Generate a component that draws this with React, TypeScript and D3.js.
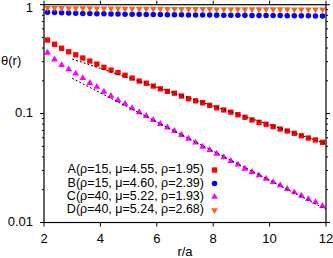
import React from "react";
import { scaleLinear, scaleLog, line, symbol, symbolSquare, symbolCircle, symbolTriangle } from "d3";

// bin centres r/a
const rValues = [
  2.125, 2.375, 2.625, 2.875, 3.125, 3.375, 3.625, 3.875, 4.125, 4.375,
  4.625, 4.875, 5.125, 5.375, 5.625, 5.875, 6.125, 6.375, 6.625, 6.875,
  7.125, 7.375, 7.625, 7.875, 8.125, 8.375, 8.625, 8.875, 9.125, 9.375,
  9.625, 9.875, 10.125, 10.375, 10.625, 10.875, 11.125, 11.375, 11.625, 11.875,
];

const seriesA = [
  0.474, 0.433, 0.398, 0.37, 0.347, 0.324, 0.304, 0.285, 0.266, 0.251,
  0.238, 0.225, 0.212, 0.199, 0.19, 0.179, 0.169, 0.16, 0.154, 0.145,
  0.137, 0.131, 0.126, 0.119, 0.113, 0.108, 0.103, 0.0977, 0.0925, 0.0874,
  0.0832, 0.0798, 0.0759, 0.0722, 0.0692, 0.0659, 0.0626, 0.0597, 0.0573, 0.0545,
];
const seriesB = [
  0.851, 0.846, 0.842, 0.838, 0.835, 0.832, 0.83, 0.827, 0.825, 0.823,
  0.821, 0.819, 0.817, 0.816, 0.814, 0.813, 0.811, 0.81, 0.809, 0.808,
  0.806, 0.805, 0.804, 0.803, 0.802, 0.801, 0.8, 0.799, 0.798, 0.797,
  0.796, 0.795, 0.794, 0.794, 0.793, 0.792, 0.791, 0.79, 0.789, 0.788,
];
const seriesC = [
  0.362, 0.314, 0.279, 0.255, 0.233, 0.212, 0.191, 0.176, 0.159, 0.145,
  0.133, 0.123, 0.112, 0.103, 0.0951, 0.0874, 0.0802, 0.0745, 0.0692, 0.0636,
  0.0588, 0.0541, 0.0497, 0.0463, 0.0428, 0.0397, 0.0367, 0.034, 0.0312, 0.0291,
  0.0271, 0.0252, 0.0235, 0.022, 0.0203, 0.0189, 0.0176, 0.0164, 0.0154, 0.0142,
];
const seriesD = [
  0.935, 0.933, 0.931, 0.93, 0.929, 0.927, 0.926, 0.925, 0.924, 0.923,
  0.922, 0.921, 0.92, 0.919, 0.918, 0.917, 0.917, 0.916, 0.915, 0.914,
  0.914, 0.913, 0.912, 0.912, 0.911, 0.911, 0.91, 0.91, 0.909, 0.909,
  0.908, 0.908, 0.907, 0.907, 0.907, 0.906, 0.906, 0.906, 0.905, 0.905,
];

// dashed fit lines (end points)
const fitR = [3, 12];
const fitA = [0.317, 0.0531];
const fitC = [0.211, 0.0132];

const legendLabels = [
  "A(ρ=15, μ=4.55, ρ=1.95)",
  "B(ρ=15, μ=4.60, ρ=2.39)",
  "C(ρ=40, μ=5.22, ρ=1.93)",
  "D(ρ=40, μ=5.24, ρ=2.68)",
];

const xTicks = [2, 4, 6, 8, 10, 12];
const yTicks = [1, 0.1, 0.01];
const yTickLabels = ["1", "0.1", "0.01"];
const yMinor = [0.02, 0.03, 0.04, 0.05, 0.06, 0.07, 0.08, 0.09, 0.2, 0.3, 0.4, 0.5, 0.6, 0.7, 0.8, 0.9];

const W = 333, H = 258;
const left = 44, right = 326, top = 4.7, bottom = 222.5;
const font = "'Liberation Sans', Arial, sans-serif";

const series = [
  { values: seriesA, color: "#ff0000", shape: "square" },
  { values: seriesB, color: "#0000ff", shape: "circle" },
  { values: seriesC, color: "#ff00ff", shape: "tri" },
  { values: seriesD, color: "#ff6020", shape: "itri" },
];

function markerPath(shape: string) {
  if (shape === "square") return symbol(symbolSquare, 28)()!;
  if (shape === "circle") return symbol(symbolCircle, 24)()!;
  return symbol(symbolTriangle, 20)()!;
}

export default function App() {
  const x = scaleLinear().domain([2, 12]).range([left, right]);
  const y = scaleLog().domain([0.01, 1]).range([bottom, top]);

  const fitLine = line<number>().x((_, i) => x(fitR[i])).y((d) => y(d));

  const marker = (shape: string, cx: number, cy: number, color: string, key: any) => (
    <path
      key={key}
      d={markerPath(shape)}
      transform={`translate(${cx},${cy})${shape === "itri" ? " rotate(180)" : ""}`}
      fill={color}
    />
  );

  return (
    <svg width={W} height={H} style={{ position: "absolute", left: 0, top: 0, background: "#fff" }}
      fontFamily={font}>
      {/* data */}
      {series.map((s, si) => (
        <g key={si}>
          {s.values.map((v, i) => marker(s.shape, x(rValues[i]), y(v), s.color, i))}
        </g>
      ))}
      <path d={fitLine(fitA)!} fill="none" stroke="#000" strokeWidth={1} strokeDasharray="2,2" />
      <path d={fitLine(fitC)!} fill="none" stroke="#000" strokeWidth={1} strokeDasharray="2,2" />

      {/* frame */}
      <rect x={left} y={top} width={right - left} height={bottom - top} fill="none" stroke="#000" strokeWidth={1.2} />

      {/* x ticks */}
      {xTicks.map((t) => (
        <g key={t}>
          <line x1={x(t)} x2={x(t)} y1={bottom} y2={bottom + 4} stroke="#000" />
          <line x1={x(t)} x2={x(t)} y1={top} y2={top - 4} stroke="#000" />
          <text x={x(t)} y={240} textAnchor="middle" dominantBaseline="middle" fontSize={13}>{t}</text>
        </g>
      ))}
      {/* y ticks */}
      {yTicks.map((t, i) => (
        <g key={t}>
          <line x1={left} x2={left - 4} y1={y(t)} y2={y(t)} stroke="#000" />
          <line x1={right} x2={right + 4} y1={y(t)} y2={y(t)} stroke="#000" />
          <text x={33} y={Math.max(y(t), 8.5)} textAnchor="end" dominantBaseline="middle" fontSize={13}>{yTickLabels[i]}</text>
        </g>
      ))}
      {yMinor.map((t) => (
        <g key={t}>
          <line x1={left} x2={left - 2} y1={y(t)} y2={y(t)} stroke="#000" />
          <line x1={right} x2={right + 2} y1={y(t)} y2={y(t)} stroke="#000" />
        </g>
      ))}

      {/* axis titles */}
      <text x={1} y={62} dominantBaseline="middle" fontSize={13}>θ(r)</text>
      <text x={(left + right) / 2} y={253} textAnchor="middle" dominantBaseline="middle" fontSize={13}>r/a</text>

      {/* legend */}
      {legendLabels.map((lab, i) => (
        <g key={lab}>
          <text x={204} y={170 + i * 13.4} textAnchor="end" dominantBaseline="middle" fontSize={12.5}>{lab}</text>
          {marker(series[i].shape, 214.5, 170 + i * 13.4, series[i].color, "m")}
        </g>
      ))}
    </svg>
  );
}
